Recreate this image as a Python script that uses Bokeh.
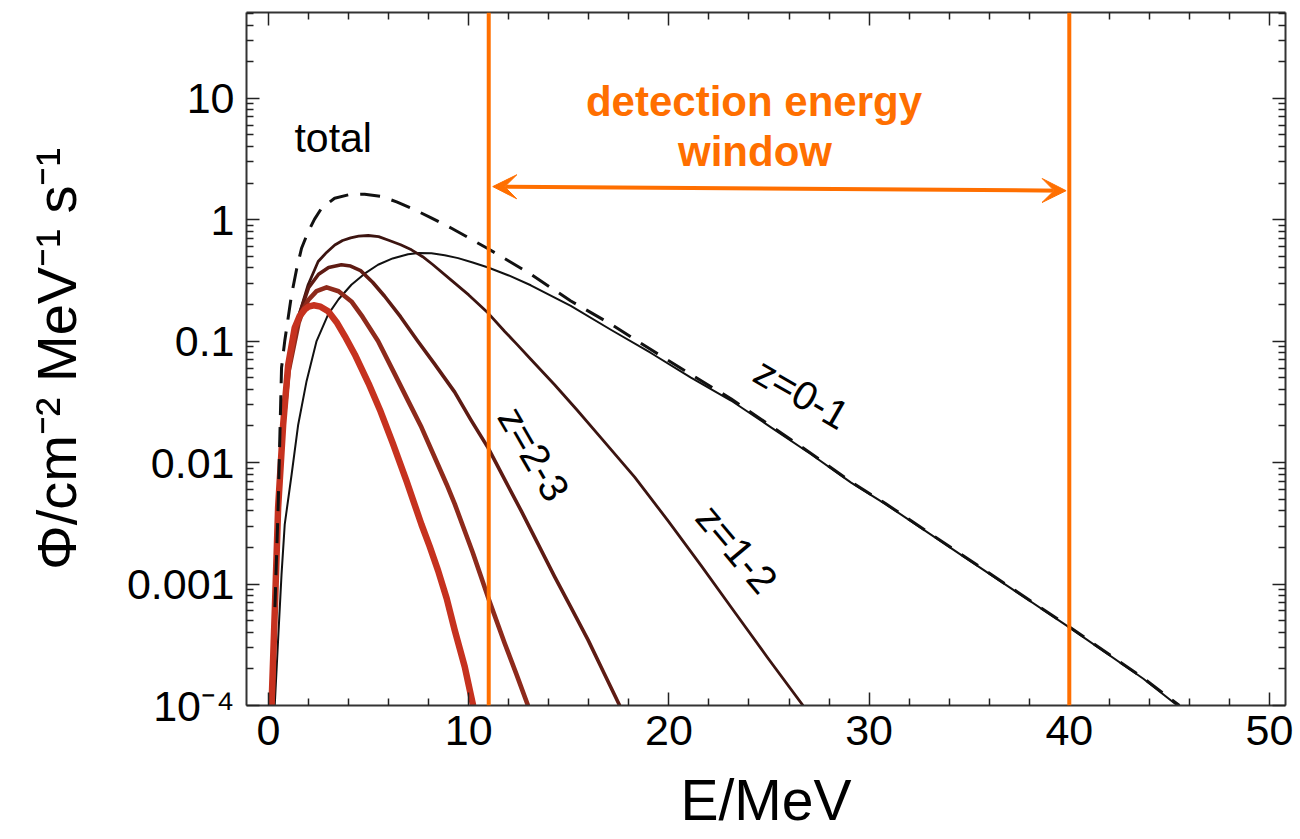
import numpy as np
from bokeh.plotting import figure
from bokeh.models import (Range1d, FixedTicker, LinearAxis, LogAxis, Span, Arrow,
                          VeeHead, Label, CustomJSTickFormatter)
from bokeh.embed import file_html
from bokeh.resources import INLINE

# ---------------- data ----------------
E_z01 = [0.31, 0.48, 0.65, 0.81, 1.15, 1.48, 1.90, 2.40, 2.98, 3.5, 4.14, 4.8, 5.47, 6.2, 6.97,
         7.5, 8.14, 8.8, 9.47, 10.2, 10.97, 12.0, 13.1, 15.1, 17.1, 19.1, 21.1, 23.1, 25.1,
         27.1, 29.1, 30.8, 34.5, 39.85, 43.7, 45.4]
phi_z01 = [1.0e-4, 3.5e-4, 1.2e-3, 3.1e-3, 7.9e-3, 0.0204, 0.0468, 0.100, 0.166, 0.221, 0.291,
           0.359, 0.425, 0.479, 0.519, 0.531, 0.528, 0.509, 0.482, 0.443, 0.403, 0.347, 0.288,
           0.195, 0.124, 0.0798, 0.0501, 0.0324, 0.0195, 0.0117, 0.00684, 0.00457, 0.00178,
           4.57e-4, 1.66e-4, 1.0e-4]

E_z12 = [0.2, 0.35, 0.5, 0.7, 1.0, 1.4, 1.98, 2.48, 2.9, 3.31, 3.7, 4.1, 4.5, 4.98, 5.5, 6.0,
         6.6, 7.14, 7.7, 8.2, 9.14, 10.0, 10.97, 11.8, 12.4, 13.1, 14.29, 15.4, 16.63, 18.29,
         19.96, 21.62, 23.28, 24.95, 26.7]
phi_z12 = [1.0e-4, 1.0e-3, 5.01e-3, 0.0178, 0.0562, 0.141, 0.291, 0.452, 0.537, 0.619, 0.673,
           0.708, 0.730, 0.740, 0.724, 0.676, 0.621, 0.564, 0.495, 0.427, 0.316, 0.240, 0.170,
           0.120, 0.0944, 0.0708, 0.0437, 0.0272, 0.0158, 0.00759, 0.00331, 0.00141, 5.89e-4,
           2.45e-4, 1.0e-4]

E_z23 = [0.2, 0.35, 0.5, 0.7, 1.0, 1.5, 2.0, 2.5, 3.0, 3.64, 4.1, 4.6, 5.2, 5.8, 6.6, 7.45,
         8.3, 9.3, 10.1, 10.97, 11.8, 12.63, 13.46, 14.29, 15.1, 15.96, 16.75, 17.54]
phi_z23 = [1.0e-4, 1.0e-3, 5.01e-3, 0.0191, 0.0603, 0.158, 0.275, 0.355, 0.403, 0.425, 0.415,
           0.380, 0.305, 0.234, 0.158, 0.100, 0.0646, 0.0380, 0.0226, 0.0132, 0.00724, 0.00398,
           0.00214, 0.00115, 6.46e-4, 3.47e-4, 1.86e-4, 1.0e-4]

E_z34 = [0.2, 0.35, 0.5, 0.7, 1.0, 1.5, 1.75, 2.0, 2.4, 2.9, 3.5, 4.14, 4.7, 5.47, 6.3, 7.0,
         7.64, 8.47, 8.9, 9.30, 10.2, 10.6, 10.97, 11.8, 12.4, 12.96]
phi_z34 = [1.0e-4, 1.0e-3, 4.79e-3, 0.0182, 0.0562, 0.141, 0.185, 0.219, 0.258, 0.277, 0.257,
           0.212, 0.158, 0.100, 0.0537, 0.0316, 0.0195, 0.00955, 0.0066, 0.00457, 0.00182,
           0.00117, 7.76e-4, 3.24e-4, 1.78e-4, 1.0e-4]

E_z45 = [0.15, 0.32, 0.48, 0.73, 0.98, 1.31, 1.55, 1.81, 2.0, 2.25, 2.6, 2.98, 3.4, 3.81, 4.31,
         5.0, 5.6, 6.2, 6.9, 7.64, 8.05, 8.47, 8.9, 9.3, 9.8, 10.22]
phi_z45 = [1.0e-4, 6.46e-4, 4.27e-3, 0.0204, 0.0631, 0.129, 0.160, 0.182, 0.192, 0.197, 0.192,
           0.176, 0.143, 0.110, 0.0776, 0.0447, 0.0263, 0.0145, 0.0070, 0.00309, 0.00204,
           0.00129, 7.6e-4, 4.17e-4, 2.09e-4, 1.0e-4]

E_total = [0.32, 0.48, 0.65, 0.81, 1.15, 1.4, 1.65, 1.98, 2.3, 2.65, 3.3, 4.0, 4.8, 5.64, 6.4,
           7.14, 8.1, 9.14, 10.0, 10.97, 12.0, 13.1, 15.1, 17.1, 19.1, 21.1, 23.1, 25.1, 27.1,
           29.1, 30.8, 34.5, 39.85, 43.7, 45.5]
phi_total = [6.46e-4, 4.27e-3, 0.0603, 0.100, 0.240, 0.389, 0.581, 0.794, 1.01, 1.24, 1.50,
             1.60, 1.62, 1.55, 1.40, 1.24, 1.04, 0.849, 0.708, 0.575, 0.457, 0.355, 0.214,
             0.138, 0.0851, 0.0531, 0.0335, 0.0200, 0.0119, 0.00692, 0.00462, 0.00180,
             4.62e-4, 1.68e-4, 1.0e-4]

window = [11, 40]                 # detection energy window (MeV)
arrow_phi = [1.87, 1.73]          # arrow height at its two ends

x_ticks = [0, 10, 20, 30, 40, 50]
x_tick_labels = ["0", "10", "20", "30", "40", "50"]
y_ticks = [1e-4, 1e-3, 1e-2, 1e-1, 1, 10]
y_tick_labels = ["10\u207b\u2074", "0.001", "0.01", "0.1", "1", "10"]

# ---------------- styling ----------------
FONT = "Liberation Sans"
ORANGE = "#ff6f00"
AXIS_COLOR = "#333333"

p = figure(width=1300, height=839,
           x_range=Range1d(-1.1, 50.8), y_range=Range1d(1e-4, 50.7),
           y_axis_type="log", output_backend="svg", toolbar_location=None,
           min_border_left=246, min_border_right=15, min_border_top=12, min_border_bottom=134)
p.grid.visible = False
p.outline_line_color = None
p.background_fill_color = "white"
p.border_fill_color = "white"

x_minor = [v for v in range(2, 50, 2) if v % 10]
y_minor = [m * 10.0 ** k for k in range(-4, 2) for m in range(2, 10) if m * 10.0 ** k < 50.7]
xticker = FixedTicker(ticks=x_ticks, minor_ticks=x_minor)
yticker = FixedTicker(ticks=y_ticks, minor_ticks=y_minor)

xfmt = CustomJSTickFormatter(args=dict(tvals=x_ticks, tlabels=x_tick_labels), code="""
for (let i = 0; i < tvals.length; i++) { if (Math.abs(tick - tvals[i]) < 1e-9) return tlabels[i]; }
return "";
""")
yfmt = CustomJSTickFormatter(args=dict(tvals=y_ticks, tlabels=y_tick_labels), code="""
for (let i = 0; i < tvals.length; i++) {
  if (Math.abs(Math.log10(tick) - Math.log10(tvals[i])) < 1e-6) return tlabels[i];
}
return "";
""")


def style_axis(ax):
    ax.axis_line_color = AXIS_COLOR
    ax.axis_line_width = 2
    ax.major_tick_line_color = "#222222"
    ax.minor_tick_line_color = "#222222"
    ax.major_tick_line_width = 1.5
    ax.minor_tick_line_width = 1.5
    ax.major_tick_in = 13
    ax.major_tick_out = 0
    ax.minor_tick_in = 7
    ax.minor_tick_out = 0
    ax.major_label_text_font = FONT
    ax.major_label_text_color = "black"
    ax.axis_label_text_font = FONT
    ax.axis_label_text_font_style = "normal"
    ax.axis_label_text_color = "black"


xa = p.xaxis[0]
xa.ticker = xticker
xa.formatter = xfmt
style_axis(xa)
xa.major_label_text_font_size = "43px"
xa.major_label_standoff = 10
xa.axis_label = "E/MeV"
xa.axis_label_text_font_size = "57px"
xa.axis_label_standoff = 20

ya = p.yaxis[0]
ya.ticker = yticker
ya.formatter = yfmt
style_axis(ya)
ya.major_label_text_font_size = "43px"
ya.major_label_standoff = 12
ya.axis_label = "\u03a6/cm\u207b\u00b2 MeV\u207b\u00b9 s\u207b\u00b9"
ya.axis_label_text_font_size = "56px"
ya.axis_label_standoff = 36

blank = CustomJSTickFormatter(code="return '';")
top = LinearAxis(ticker=xticker, formatter=blank)
style_axis(top)
top.major_label_text_font_size = "1px"
top.major_label_standoff = 0
p.add_layout(top, "above")

right = LogAxis(ticker=yticker, formatter=blank)
style_axis(right)
right.major_label_text_font_size = "1px"
right.major_label_standoff = 0
p.add_layout(right, "right")

# ---------------- curves ----------------
p.line(E_z01, phi_z01, line_color="#111111", line_width=2, line_join="round")
p.line(E_z12, phi_z12, line_color="#3c1410", line_width=2.8, line_join="round")
p.line(E_z23, phi_z23, line_color="#5e1b13", line_width=3.6, line_join="round")
p.line(E_z34, phi_z34, line_color="#8e2a1b", line_width=4.6, line_join="round")
p.line(E_z45, phi_z45, line_color="#c6321f", line_width=6.5, line_join="round")
p.line(E_total, phi_total, line_color="#111111", line_width=3, line_dash="20 12", line_join="round")

# ---------------- detection window ----------------
for w in window:
    p.add_layout(Span(location=w, dimension="height", line_color=ORANGE, line_width=4))

p.add_layout(Arrow(start=VeeHead(size=24, fill_color=ORANGE, line_color=ORANGE, line_width=1),
                   end=VeeHead(size=24, fill_color=ORANGE, line_color=ORANGE, line_width=1),
                   x_start=window[0] + 0.2, y_start=arrow_phi[0],
                   x_end=window[1] - 0.16, y_end=arrow_phi[1],
                   line_color=ORANGE, line_width=4))

p.add_layout(Label(x=24.25, y=9.3, text="detection energy", text_font=FONT,
                   text_font_size="42px", text_font_style="bold", text_color=ORANGE,
                   text_align="center", text_baseline="alphabetic"))
p.add_layout(Label(x=24.3, y=3.62, text="window", text_font=FONT,
                   text_font_size="42px", text_font_style="bold", text_color=ORANGE,
                   text_align="center", text_baseline="alphabetic"))

# ---------------- curve labels ----------------
p.add_layout(Label(x=3.23, y=4.66, text="total", text_font=FONT, text_font_size="41px",
                   text_color="black", text_align="center", text_baseline="alphabetic"))
p.add_layout(Label(x=26.63, y=0.037, text="z=0-1", text_font=FONT, text_font_size="40px",
                   text_color="black", text_align="center", text_baseline="middle",
                   angle=-30, angle_units="deg"))
p.add_layout(Label(x=23.4, y=0.00195, text="z=1-2", text_font=FONT, text_font_size="40px",
                   text_color="black", text_align="center", text_baseline="middle",
                   angle=-50, angle_units="deg"))
p.add_layout(Label(x=13.26, y=0.0118, text="z=2-3", text_font=FONT, text_font_size="40px",
                   text_color="black", text_align="center", text_baseline="middle",
                   angle=-60, angle_units="deg"))

open("out.html", "w").write(file_html(p, INLINE))
